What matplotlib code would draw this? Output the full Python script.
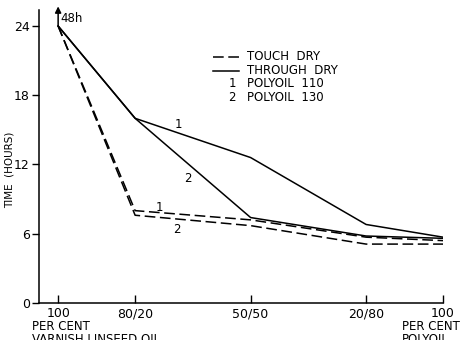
import matplotlib.pyplot as plt
from matplotlib.lines import Line2D

plt.rcParams['font.family'] = ['DejaVu Sans']

# percent polyoil in the blend
blend = [0, 20, 50, 80, 100]
tick_labels = ['100', '80/20', '50/50', '20/80', '100']

# drying times (hours)
touch_110 = [24, 8.0, 7.2, 5.7, 5.4]
touch_130 = [24, 7.6, 6.7, 5.1, 5.1]
through_110 = [24, 16.0, 12.6, 6.8, 5.7]
through_130 = [24, 16.0, 7.4, 5.8, 5.6]

fig = plt.figure(figsize=(4.63, 3.40), dpi=100)
ax = fig.add_axes([0.084, 0.109, 0.873, 0.862])

dash = (0, (7, 3))
ax.plot(blend, touch_110, color='black', lw=1.1, ls=dash)
ax.plot(blend, touch_130, color='black', lw=1.1, ls=dash)
ax.plot(blend, through_110, color='black', lw=1.1)
ax.plot(blend, through_130, color='black', lw=1.1)

# curve numbers
ax.text(31.2, 15.5, '1', fontsize=8.5, ha='center', va='center')
ax.text(33.8, 10.8, '2', fontsize=8.5, ha='center', va='center')
ax.text(26.2, 8.3, '1', fontsize=8.5, ha='center', va='center')
ax.text(30.9, 6.4, '2', fontsize=8.5, ha='center', va='center')

# 48h arrow
ax.annotate('', xy=(0, 25.7), xytext=(0, 24), annotation_clip=False,
            arrowprops=dict(arrowstyle='-|>', color='black', lw=1.1,
                            mutation_scale=9, shrinkA=0, shrinkB=0))
ax.text(0.6, 24.65, '48h', fontsize=8.5, ha='left', va='center')

ax.set_xlim(-5, 100)
ax.set_ylim(0, 25.4)
ax.set_xticks(blend)
ax.set_xticklabels(tick_labels, fontsize=9)
ax.set_yticks([0, 6, 12, 18, 24])
ax.set_yticklabels(['0', '6', '12', '18', '24'], fontsize=9)
ax.tick_params(axis='x', direction='in', length=6, width=1, pad=3)
ax.tick_params(axis='y', direction='out', length=5, width=1, pad=1.5)
for s in ['top', 'right']:
    ax.spines[s].set_visible(False)
for s in ['left', 'bottom']:
    ax.spines[s].set_linewidth(1.1)
fig.text(10 / 463, 0.5, 'TIME  (HOURS)', rotation=90,
         fontsize=7.5, ha='center', va='center')

# end labels under the axis
ax.text(-0.017, -0.058, 'PER CENT\nVARNISH LINSEED OIL', transform=ax.transAxes,
        fontsize=8.5, ha='left', va='top', linespacing=1.05, clip_on=False)
ax.text(0.899, -0.058, 'PER CENT\nPOLYOIL', transform=ax.transAxes,
        fontsize=8.5, ha='left', va='top', linespacing=1.05, clip_on=False)

# legend drawn as rows
rows = [('TOUCH  DRY', dash), ('THROUGH  DRY', '-')]
for i, (lab, st) in enumerate(rows):
    yy = 0.84 - i * 0.048
    ax.add_line(Line2D([0.43, 0.495], [yy, yy], transform=ax.transAxes,
                       color='black', lw=1.1, ls=st))
    ax.text(0.515, yy, lab, transform=ax.transAxes, fontsize=8.5, va='center')
for i, lab in enumerate(['POLYOIL  110', 'POLYOIL  130']):
    yy = 0.84 - (i + 2) * 0.046
    ax.text(0.478, yy, str(i + 1), transform=ax.transAxes, fontsize=8.5,
            va='center', ha='center')
    ax.text(0.515, yy, lab, transform=ax.transAxes, fontsize=8.5, va='center')

fig.savefig('out.png', dpi=100)
